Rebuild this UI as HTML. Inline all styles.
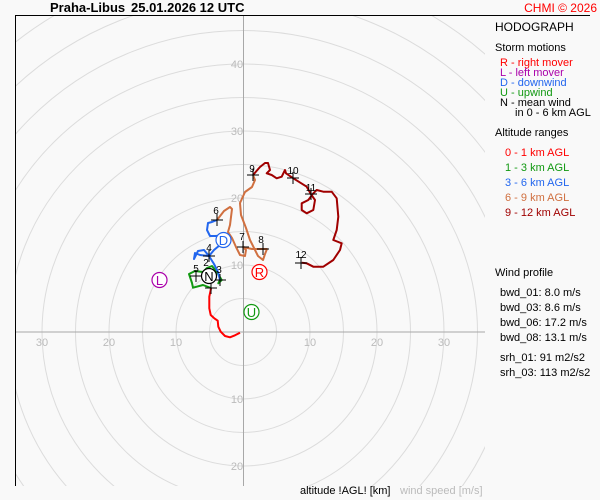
<!DOCTYPE html>
<html><head><style>html,body{margin:0;padding:0;background:#f9f9f9;overflow:hidden;width:600px;height:500px}svg{display:block}</style></head><body>
<svg width="600" height="500" xmlns="http://www.w3.org/2000/svg" font-family="Liberation Sans, sans-serif">
<rect width="600" height="500" fill="#f9f9f9"/>
<defs><clipPath id="c"><rect x="15" y="15" width="470" height="471"/></clipPath></defs>
<g clip-path="url(#c)" fill="none" stroke="#dcdcdc" stroke-width="1">
<circle cx="243" cy="332" r="33.5"/><circle cx="243" cy="332" r="67"/><circle cx="243" cy="332" r="100.5"/><circle cx="243" cy="332" r="134"/><circle cx="243" cy="332" r="167.5"/><circle cx="243" cy="332" r="201"/><circle cx="243" cy="332" r="234.5"/><circle cx="243" cy="332" r="268"/><circle cx="243" cy="332" r="301.5"/><circle cx="243" cy="332" r="335"/><circle cx="243" cy="332" r="368.5"/>
</g>
<line x1="15" y1="332" x2="485" y2="332" stroke="#a8a8a8"/>
<line x1="243.5" y1="15" x2="243.5" y2="486" stroke="#a8a8a8"/>
<line x1="15.5" y1="15" x2="15.5" y2="486" stroke="#000"/>
<line x1="15" y1="15.5" x2="590" y2="15.5" stroke="#000"/>
<g font-size="11" fill="#bbb" text-anchor="middle">
<text x="42" y="346">30</text><text x="109" y="346">20</text><text x="176" y="346">10</text><text x="310" y="346">10</text><text x="377" y="346">20</text><text x="444" y="346">30</text>
<text x="237" y="68">40</text><text x="237" y="135">30</text><text x="237" y="202">20</text><text x="237" y="269">10</text><text x="237" y="403">10</text><text x="237" y="470">20</text>
</g>
<g fill="none" stroke-width="2" stroke-linejoin="round">
<polyline stroke="#ff0000" points="240,332.7 235,335.3 230,337.3 225,336 220.7,331.7 218.3,326.7 217.7,320.7 214.3,318.3 210.7,315 209.3,308.3 209.3,296.7 210.7,290 211,288"/>
<polyline stroke="#119911" points="211,288 203,285 193,287.7 192,283 189,274 195,271 203,272 207,268 212,266 216.7,271.7 221.7,280 218.3,283.3 220,280"/>
<polyline stroke="#2266ee" points="220,280 218,272 214,264 209,256 200,255 195,253 194,259 198,251 204,250 209,256 214,250 220,245 223,239 218,236 210,236 207,230 208,223 212,222 217,220"/>
<polyline stroke="#d07040" points="217,220 224,211 230,207 232,209 230,225 228,232 232,238 236,247 240,255 245,256 246,250 243,247 252,249 263,249 267,249 265,254 263,260 258,256 250,240 246,228 241,215 240,203 245,192 252,187 255,180 253,175"/>
<polyline stroke="#a00000" points="253,175 260,167 265,163 268,163 270,170 266.7,173.3 271.7,175 276.7,178.3 281.7,176.7 285,170 286,173.3 293.3,178.3 306.7,186.7 311,194.3 315,200 313.3,210 306.7,213.3 301.7,210 301.7,203.3 308.3,200 313.3,193.3 316.7,190 323.3,191.7 331.7,191.7 336.7,198.3 338.3,216.7 336.7,230 333.3,240 341.7,243.3 340,250 333.3,260 323.3,266.7 313.3,266.7 306.7,263.3 301.7,262.7"/>
</g>
<g stroke="#000" stroke-width="1">
<path d="M205,288h12M211,282v12 M214,280h12M220,274v12 M190,276h12M196,270v12 M203,256h12M209,250v12 M211,220h12M217,214v12 M237,247h12M243,241v12 M257,249h12M263,243v12 M247,175h12M253,169v12 M287,178h12M293,172v12 M305,194h12M311,188v12 M295,263h12M301,257v12"/>
</g>
<g font-size="10" fill="#000" text-anchor="middle">
<text x="206" y="266">2</text><text x="219" y="273">3</text><text x="196" y="272">5</text><text x="209" y="251">4</text><text x="216" y="214">6</text><text x="242" y="240">7</text><text x="261" y="243">8</text><text x="252" y="172">9</text><text x="293" y="174">10</text><text x="311" y="191">11</text><text x="301" y="258">12</text>
</g>
<g font-size="13" text-anchor="middle" stroke-width="1.2">
<circle cx="209" cy="276" r="7.5" fill="#fff" stroke="#000"/><text x="209" y="281" fill="#000">N</text>
<circle cx="223.5" cy="240" r="7.5" fill="#fff" stroke="#2266ee"/><text x="223.5" y="245" fill="#2266ee">D</text>
<circle cx="259.5" cy="272" r="7.5" fill="#fff" stroke="#ff0000"/><text x="259.5" y="277" fill="#ff0000">R</text>
<circle cx="251.5" cy="312" r="7.5" fill="#fff" stroke="#119911"/><text x="251.5" y="317" fill="#119911">U</text>
<circle cx="159.5" cy="280" r="7.5" fill="#fff" stroke="#aa00aa"/><text x="159.5" y="285" fill="#aa00aa">L</text>
</g>
<text x="50" y="12" font-size="13" font-weight="bold" fill="#000">Praha-Libus</text>
<text x="131" y="12" font-size="13" font-weight="bold" fill="#000">25.01.2026 12 UTC</text>
<text x="597" y="12" font-size="12" fill="#ff0000" text-anchor="end">CHMI © 2026</text>
<g font-size="11">
<text x="495" y="31" font-size="12" fill="#000">HODOGRAPH</text>
<text x="495" y="51" fill="#000">Storm motions</text>
<text x="500" y="66" fill="#ff0000">R - right mover</text>
<text x="500" y="76" fill="#aa00aa">L - left mover</text>
<text x="500" y="86" fill="#2266ee">D - downwind</text>
<text x="500" y="96" fill="#119911">U - upwind</text>
<text x="500" y="106" fill="#000">N - mean wind</text>
<text x="515" y="116" fill="#000">in 0 - 6 km AGL</text>
<text x="495" y="136" fill="#000">Altitude ranges</text>
<text x="505" y="156" fill="#ff0000">0 - 1 km AGL</text>
<text x="505" y="171" fill="#119911">1 - 3 km AGL</text>
<text x="505" y="186" fill="#2266ee">3 - 6 km AGL</text>
<text x="505" y="201" fill="#d07040">6 - 9 km AGL</text>
<text x="505" y="216" fill="#a00000">9 - 12 km AGL</text>
<text x="495" y="276" fill="#000">Wind profile</text>
<text x="500" y="296" fill="#000">bwd_01: 8.0 m/s</text>
<text x="500" y="311" fill="#000">bwd_03: 8.6 m/s</text>
<text x="500" y="326" fill="#000">bwd_06: 17.2 m/s</text>
<text x="500" y="341" fill="#000">bwd_08: 13.1 m/s</text>
<text x="500" y="361" fill="#000">srh_01: 91 m2/s2</text>
<text x="500" y="376" fill="#000">srh_03: 113 m2/s2</text>
<text x="300" y="494" fill="#000">altitude !AGL! [km]</text>
<text x="400" y="494" fill="#bbb">wind speed [m/s]</text>
</g>
</svg>
</body></html>
